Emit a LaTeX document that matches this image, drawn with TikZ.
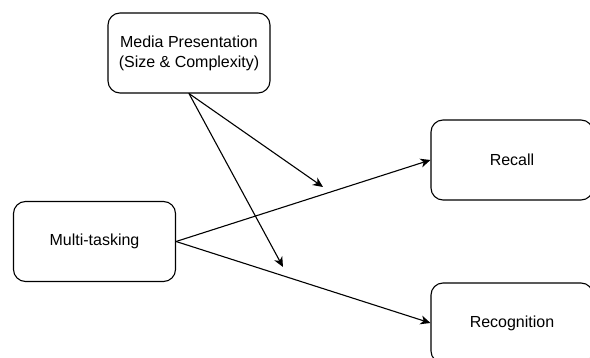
\documentclass[tikz,border=0pt]{standalone}
\usepackage{fontspec}
\setmainfont{Liberation Sans}
\usepackage{tikz}
\usetikzlibrary{arrows.meta}
\tikzset{>={Stealth[length=10pt,width=9pt,inset=3pt]}}

\begin{document}
\begin{tikzpicture}[x=1pt, y=-1pt,
                    line cap=round, line join=round,
                    box/.style={draw, line width=1.1pt, rounded corners=12pt,
                                minimum width=162pt, minimum height=80pt,
                                align=center, inner sep=0pt,
                                font=\fontsize{16}{20}\selectfont},
                    link/.style={line width=1.1pt,->}]
  \useasboundingbox (0,0) rectangle (590,358);
  \clip (0,0) rectangle (590,358);

  % BOXES
  \node[box] (media)  at (189,53)    {Media Presentation\\(Size \& Complexity)};
  \node[box] (multi)  at (94.5,241.5) {Multi-tasking};
  \node[box] (recall) at (512,160)   {Recall};
  \node[box] (recog)  at (512,323)   {Recognition};

  % MAIN PATHS
  \draw[link] (multi.east) -- (recall.west);
  \draw[link] (multi.east) -- (recog.west);

  % MODERATION
  \coordinate (modRecall) at (323,187);
  \coordinate (modRecog)  at (283,267);
  \draw[link] (media.south) -- (modRecall);
  \draw[link] (media.south) -- (modRecog);

\end{tikzpicture}
\end{document}
